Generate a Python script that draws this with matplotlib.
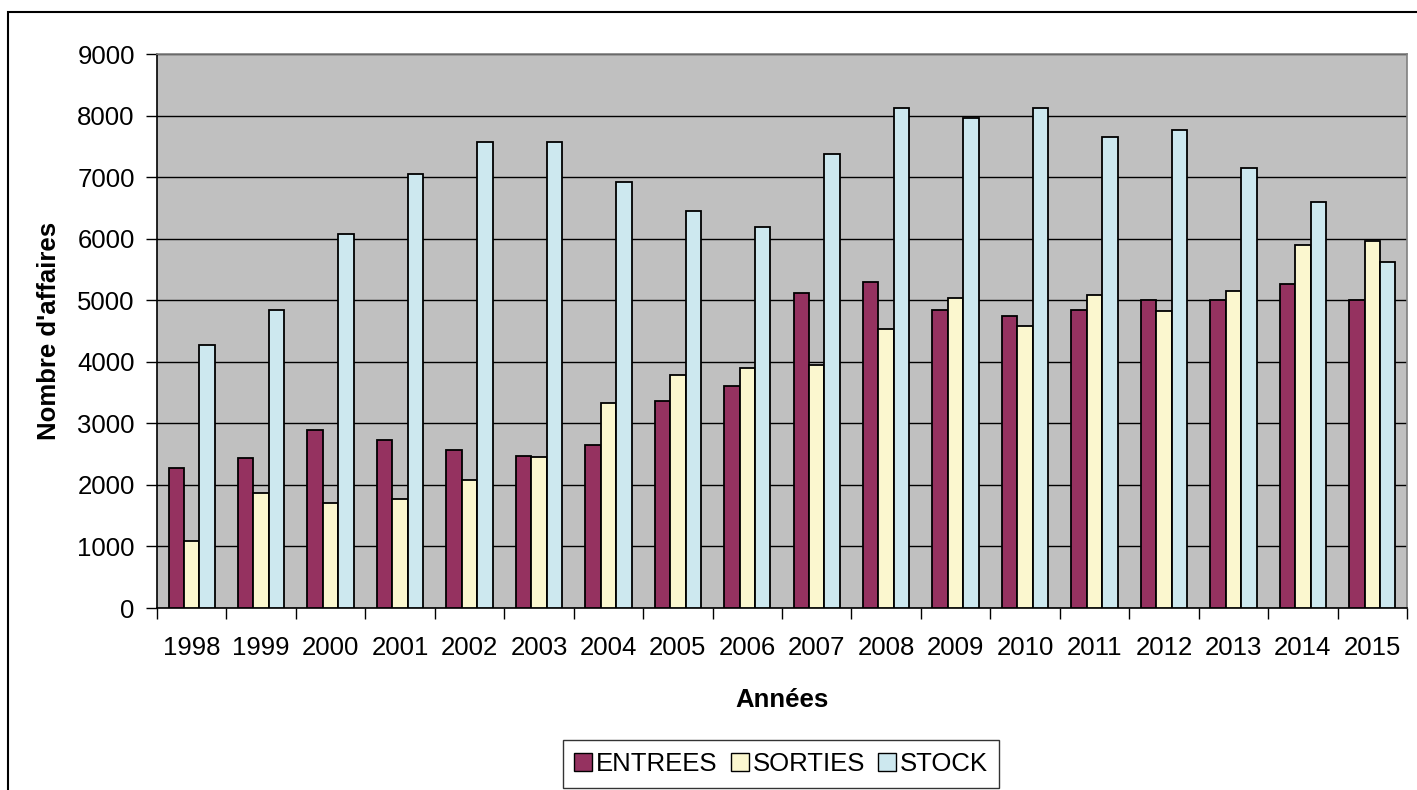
import numpy as np
import matplotlib.pyplot as plt
from matplotlib.patches import Rectangle, Patch

plt.rcParams['font.family'] = ['Liberation Sans', 'DejaVu Sans']

# Données annuelles
annees = ['1998', '1999', '2000', '2001', '2002', '2003', '2004', '2005', '2006',
          '2007', '2008', '2009', '2010', '2011', '2012', '2013', '2014', '2015']
entrees = [2270, 2430, 2890, 2730, 2570, 2465, 2655, 3370, 3600,
           5125, 5290, 4840, 4740, 4840, 5000, 5000, 5260, 5000]
sorties = [1090, 1870, 1710, 1770, 2075, 2460, 3335, 3790, 3895,
           3955, 4540, 5030, 4575, 5090, 4830, 5155, 5905, 5970]
stock = [4280, 4840, 6075, 7045, 7570, 7570, 6915, 6455, 6195,
         7370, 8115, 7955, 8115, 7655, 7765, 7140, 6590, 5615]

series = [('ENTREES', entrees, '#953260'),
          ('SORTIES', sorties, '#FBF7CF'),
          ('STOCK', stock, '#CDE8EF')]

W, H = 1417, 790
fig = plt.figure(figsize=(W / 100, H / 100), dpi=100)
ax = fig.add_axes([157 / W, 1 - 608 / H, (1407 - 157) / W, (608 - 54) / H])
ax.set_facecolor('#C0C0C0')

x = np.arange(len(annees))
w = 1 / 4.5
for i, (nom, vals, col) in enumerate(series):
    ax.bar(x + (i - 1) * w, vals, w, color=col, edgecolor='black',
           linewidth=1.3, label=nom, zorder=3)

ax.set_ylim(0, 9000)
ax.set_xlim(-0.5, len(annees) - 0.5)
ax.set_yticks(range(0, 9001, 1000))
ax.yaxis.grid(True, color='black', linewidth=1, zorder=1)
ax.set_xticks(x)
ax.set_xticklabels(annees)
ax.set_xticks(np.arange(-0.5, len(annees)), minor=True)
ax.tick_params(axis='x', which='major', length=0, pad=20, labelsize=18.5)
ax.tick_params(axis='x', which='minor', length=8, width=1, direction='out')
ax.tick_params(axis='y', length=8, width=1, direction='out', pad=8, labelsize=18.5)

for s in ['left', 'bottom']:
    ax.spines[s].set_color('black')
    ax.spines[s].set_linewidth(1.2)
for s in ['top', 'right']:
    ax.spines[s].set_color('#808080')
    ax.spines[s].set_linewidth(1.2)

ax.set_xlabel('Années', fontsize=18.5, fontweight='bold', labelpad=20)
ax.set_ylabel("Nombre d'affaires", fontsize=18.5, fontweight='bold', labelpad=12)

handles = [Patch(facecolor=c, edgecolor='black', linewidth=1) for _, _, c in series]
leg = fig.legend(handles, [n for n, _, _ in series], loc='center',
                 bbox_to_anchor=(781 / W, 1 - 764 / H), ncol=3, fontsize=18.5,
                 frameon=True, fancybox=False, edgecolor='black',
                 handlelength=0.7, handleheight=0.7, handletextpad=0.15,
                 columnspacing=0.5, borderpad=0.45)
leg.get_frame().set_linewidth(1)

# cadre du graphique
fig.add_artist(Rectangle((8 / W, -0.1), 1.2, 1 - 12 / H + 0.1,
                         transform=fig.transFigure, fill=False,
                         edgecolor='black', linewidth=1.5))

fig.savefig('out.png', dpi=100, facecolor='white')
